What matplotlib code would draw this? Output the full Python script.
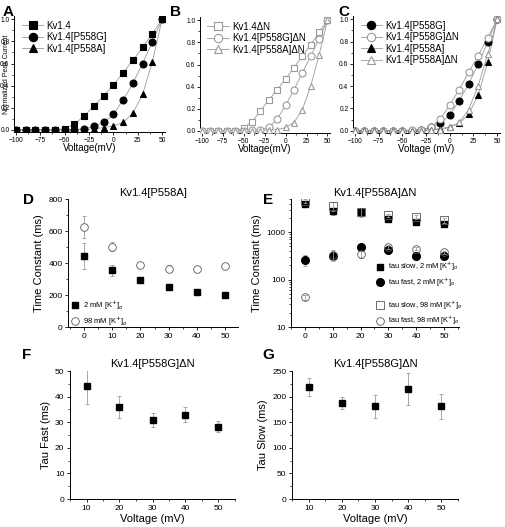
import numpy as np
import matplotlib
matplotlib.use("Agg")
import matplotlib.pyplot as plt
from matplotlib.ticker import MultipleLocator, LogLocator, NullFormatter
from matplotlib.lines import Line2D

plt.rcParams['font.family'] = ['Liberation Sans', 'DejaVu Sans']

# ---------------- data ----------------
volt_iv = [-100, -90, -80, -70, -60, -50, -40, -30, -20, -10, 0, 10, 20, 30, 40, 50]
kv14 = [0.0, 0.0, 0.0, 0.0, 0.0, 0.01, 0.05, 0.126, 0.216, 0.306, 0.405, 0.516, 0.63, 0.745, 0.87, 1.0]
p558g = [0.0, 0.0, 0.0, 0.0, 0.0, 0.0, 0.0, 0.01, 0.03, 0.066, 0.14, 0.27, 0.42, 0.60, 0.795, 1.0]
p558a = [0.0, 0.0, 0.0, 0.0, 0.0, 0.0, 0.0, 0.0, 0.01, 0.02, 0.035, 0.066, 0.15, 0.32, 0.615, 1.0]
kv14_dn = [0.0, 0.0, 0.0, 0.0, 0.0, 0.025, 0.08, 0.18, 0.28, 0.37, 0.47, 0.57, 0.675, 0.78, 0.89, 1.0]
p558g_dn = [0.0, 0.0, 0.0, 0.0, 0.0, 0.0, 0.01, 0.01, 0.03, 0.105, 0.23, 0.37, 0.525, 0.675, 0.835, 1.0]
p558a_dn = [0.0, 0.0, 0.0, 0.0, 0.0, 0.0, 0.0, 0.0, 0.01, 0.01, 0.03, 0.075, 0.19, 0.405, 0.685, 1.0]

volt_d = [0, 10, 20, 30, 40, 50]
d_2mm = [445, 355, 295, 248, 218, 197]
d_2mm_err = [80, 35, 15, 12, 10, 10]
d_98mm = [625, 502, 388, 365, 362, 383]
d_98mm_err = [70, 30, 15, 20, 12, 12]

volt_e = [0, 10, 20, 30, 40, 50]
e_slow_2 = [3850, 2730, 2600, 1910, 1630, 1520]
e_slow_2_err = [300, 400, 400, 200, 150, 120]
e_fast_2 = [264, 310, 480, 430, 320, 320]
e_fast_2_err = [70, 60, 50, 40, 30, 30]
e_slow_98 = [4520, 3550, 2650, 2250, 2110, 1790]
e_slow_98_err = [400, 700, 600, 200, 200, 200]
e_fast_98 = [42, 337, 350, 490, 445, 380]
e_fast_98_err = [5, 80, 60, 40, 30, 30]

volt_fg = [10, 20, 30, 40, 50]
tau_fast = [44, 36, 31, 33, 28.3]
tau_fast_err = [7, 4.3, 2.7, 2.8, 2.0]
tau_slow = [219, 187, 181, 215, 181]
tau_slow_err = [18, 12, 22, 32, 24]

# ---------------- figure ----------------
W, H = 506, 527
fig = plt.figure(figsize=(W / 100, H / 100), dpi=100)


def add_ax(l, r, t, b):
    return fig.add_axes([l / W, 1 - b / H, (r - l) / W, (b - t) / H])


def style(ax, tick_fs, pad=1.5):
    for s in ['top', 'right']:
        ax.spines[s].set_visible(False)
    for s in ['left', 'bottom']:
        ax.spines[s].set_linewidth(0.7)
    ax.tick_params(direction='out', labelsize=tick_fs, width=0.6, length=2.5, pad=pad)
    ax.tick_params(which='minor', direction='out', width=0.5, length=1.5)


gray = '#9a9a9a'
dark = '#555555'


def iv_panel(ax, series, xlabel, legend_fs=7):
    handles = []
    for y, mk, filled, lab in series:
        ax.plot(volt_iv, y, color=gray, lw=0.6, zorder=1)
        if filled:
            kw = dict(mfc='black', mec='black', mew=0.8)
        else:
            kw = dict(mfc='white', mec=gray, mew=0.8)
        ax.plot(volt_iv, y, ls='none', marker=mk, ms=5, zorder=3, **kw)
        handles.append(Line2D([], [], color=gray, lw=0.6, marker=mk, ms=6, label=lab, **kw))
    ax.set_xlim(-102, 53)
    ax.set_ylim(-0.02, 1.03)
    ax.xaxis.set_major_locator(MultipleLocator(25))
    ax.xaxis.set_minor_locator(MultipleLocator(12.5))
    ax.yaxis.set_major_locator(MultipleLocator(0.2))
    ax.yaxis.set_minor_locator(MultipleLocator(0.1))
    ax.yaxis.set_major_formatter(matplotlib.ticker.FormatStrFormatter('%.1f'))
    style(ax, 4.8, pad=0.8)
    ax.set_xlabel(xlabel, fontsize=7, labelpad=-0.5)
    ax.legend(handles=handles, loc='upper left', bbox_to_anchor=(0.02, 1.0), frameon=False,
              fontsize=legend_fs, handlelength=2.2, handletextpad=0.3, labelspacing=0.15,
              borderaxespad=0.1, numpoints=1)


# Panel A
axA = add_ax(14, 165, 16, 132)
iv_panel(axA, [(kv14, 's', True, 'Kv1.4'),
               (p558g, 'o', True, 'Kv1.4[P558G]'),
               (p558a, '^', True, 'Kv1.4[P558A]')], 'Voltage(mV)')
axA.set_ylabel('Normalized Peak Current', fontsize=5, labelpad=-7)

# Panel B
axB = add_ax(200, 330, 17, 133)
iv_panel(axB, [(kv14_dn, 's', False, 'Kv1.4ΔN'),
               (p558g_dn, 'o', False, 'Kv1.4[P558G]ΔN'),
               (p558a_dn, '^', False, 'Kv1.4[P558A]ΔN')], 'Voltage(mV)')

# Panel C
axC = add_ax(353, 500, 16, 133)
iv_panel(axC, [(p558g, 'o', True, 'Kv1.4[P558G]'),
               (p558g_dn, 'o', False, 'Kv1.4[P558G]ΔN'),
               (p558a, '^', True, 'Kv1.4[P558A]'),
               (p558a_dn, '^', False, 'Kv1.4[P558A]ΔN')], 'Voltage (mV)')

ebkw = dict(ecolor=gray, elinewidth=0.6, capsize=1.5, capthick=0.6)

# Panel D
axD = add_ax(68, 238, 199, 327)
axD.errorbar(volt_d, d_2mm, yerr=d_2mm_err, fmt='s', ms=5, mfc='black', mec='black', **ebkw)
axD.errorbar(volt_d, d_98mm, yerr=d_98mm_err, fmt='o', ms=5.5, mfc='white', mec=dark,
             mew=0.6, **ebkw)
axD.set_xlim(-5.7, 54.6)
axD.set_ylim(0, 800)
axD.xaxis.set_major_locator(MultipleLocator(10))
axD.xaxis.set_minor_locator(MultipleLocator(5))
axD.yaxis.set_major_locator(MultipleLocator(200))
axD.yaxis.set_minor_locator(MultipleLocator(100))
style(axD, 6)
axD.set_ylabel('Time Constant (ms)', fontsize=8, labelpad=3)
axD.set_title('Kv1.4[P558A]', fontsize=8, pad=2)
hD = [Line2D([], [], ls='none', marker='s', ms=5, mfc='black', mec='black',
             label='2 mM [K$^{+}$]$_{o}$'),
      Line2D([], [], ls='none', marker='o', ms=5.5, mfc='white', mec=dark, mew=0.6,
             label='98 mM [K$^{+}$]$_{o}$')]
axD.legend(handles=hD, loc='upper left', bbox_to_anchor=(0.02, 0.225), frameon=False,
           fontsize=5.5, handletextpad=0.5, labelspacing=0.3, handlelength=1.0,
           borderaxespad=0.0, borderpad=0.0)

# Panel E
axE = add_ax(291, 459, 199, 327)
axE.set_yscale('log')
axE.errorbar(volt_e, e_slow_2, yerr=e_slow_2_err, fmt='s', ms=5, mfc='black', mec='black',
             zorder=3, **ebkw)
axE.errorbar(volt_e, e_fast_2, yerr=e_fast_2_err, fmt='o', ms=5.5, mfc='black', mec='black',
             zorder=3, **ebkw)
axE.errorbar(volt_e, e_slow_98, yerr=e_slow_98_err, fmt='s', ms=5.5, mfc='none', mec=dark,
             mew=0.6, zorder=4, **ebkw)
axE.errorbar(volt_e, e_fast_98, yerr=e_fast_98_err, fmt='o', ms=5.5, mfc='none', mec=dark,
             mew=0.6, zorder=4, **ebkw)
axE.set_xlim(-5, 55.4)
axE.set_ylim(10, 5000)
axE.xaxis.set_major_locator(MultipleLocator(10))
axE.xaxis.set_minor_locator(MultipleLocator(5))
axE.yaxis.set_major_locator(LogLocator(base=10, numticks=5))
axE.yaxis.set_minor_locator(LogLocator(base=10, subs=np.arange(2, 10), numticks=20))
axE.yaxis.set_minor_formatter(NullFormatter())
axE.yaxis.set_major_formatter(matplotlib.ticker.FuncFormatter(lambda v, p: '%d' % v))
style(axE, 6)
axE.set_ylabel('Time Constant (ms)', fontsize=8, labelpad=3)
axE.set_title('Kv1.4[P558A]ΔN', fontsize=8, pad=2)
hE1 = [Line2D([], [], ls='none', marker='s', ms=5, mfc='black', mec='black',
              label='tau slow, 2 mM [K$^{+}$]$_{o}$'),
       Line2D([], [], ls='none', marker='o', ms=5.5, mfc='black', mec='black',
              label='tau fast, 2 mM [K$^{+}$]$_{o}$')]
hE2 = [Line2D([], [], ls='none', marker='s', ms=5.5, mfc='white', mec=dark, mew=0.6,
              label='tau slow, 98 mM [K$^{+}$]$_{o}$'),
       Line2D([], [], ls='none', marker='o', ms=5.5, mfc='white', mec=dark, mew=0.6,
              label='tau fast, 98 mM [K$^{+}$]$_{o}$')]
legkw = dict(frameon=False, fontsize=5.3, handletextpad=0.6, labelspacing=0.45,
             handlelength=1.0, borderaxespad=0.0, borderpad=0.0, loc='upper left')
legE1 = axE.legend(handles=hE1, bbox_to_anchor=(0.51, 0.515), **legkw)
axE.add_artist(legE1)
axE.legend(handles=hE2, bbox_to_anchor=(0.51, 0.215), **legkw)

# Panel F
axF = add_ax(70, 235, 371, 499)
axF.errorbar(volt_fg, tau_fast, yerr=tau_fast_err, fmt='s', ms=5, mfc='black', mec='black',
             **ebkw)
axF.set_xlim(5, 55)
axF.set_ylim(0, 50)
axF.xaxis.set_major_locator(MultipleLocator(10))
axF.xaxis.set_minor_locator(MultipleLocator(5))
axF.yaxis.set_major_locator(MultipleLocator(10))
axF.yaxis.set_minor_locator(MultipleLocator(5))
style(axF, 6)
axF.set_ylabel('Tau Fast (ms)', fontsize=8, labelpad=3)
axF.set_xlabel('Voltage (mV)', fontsize=8, labelpad=2)
axF.set_title('Kv1.4[P558G]ΔN', fontsize=8, pad=3)

# Panel G
axG = add_ax(292, 458, 371, 499)
axG.errorbar(volt_fg, tau_slow, yerr=tau_slow_err, fmt='s', ms=5, mfc='black', mec='black',
             **ebkw)
axG.set_xlim(5, 55)
axG.set_ylim(0, 250)
axG.xaxis.set_major_locator(MultipleLocator(10))
axG.xaxis.set_minor_locator(MultipleLocator(5))
axG.yaxis.set_major_locator(MultipleLocator(50))
axG.yaxis.set_minor_locator(MultipleLocator(25))
style(axG, 6)
axG.set_ylabel('Tau Slow (ms)', fontsize=8, labelpad=3)
axG.set_xlabel('Voltage (mV)', fontsize=8, labelpad=2)
axG.set_title('Kv1.4[P558G]ΔN', fontsize=8, pad=3)

# Panel letters
for lab, x, y in [('A', 3, 12), ('B', 170, 12), ('C', 338, 12),
                  ('D', 23, 200), ('E', 263, 200), ('F', 22, 355), ('G', 262, 355)]:
    fig.text(x / W, 1 - y / H, lab, fontsize=11, fontweight='bold', ha='left', va='center')

fig.savefig('out.png', dpi=100)
